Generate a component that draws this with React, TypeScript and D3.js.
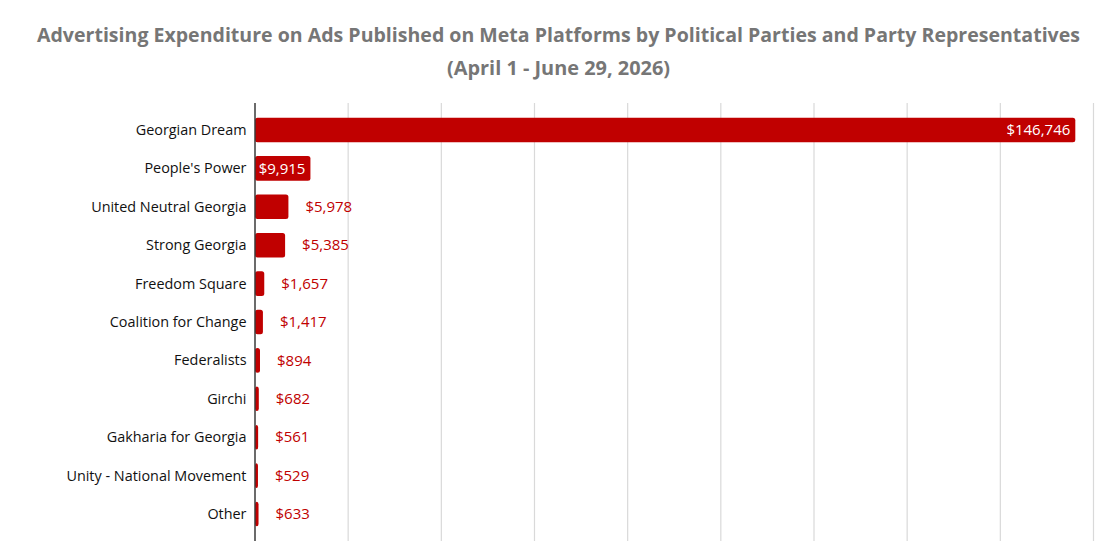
import React from 'react';
import * as d3 from 'd3';

const parties = [
  'Georgian Dream',
  "People's Power",
  'United Neutral Georgia',
  'Strong Georgia',
  'Freedom Square',
  'Coalition for Change',
  'Federalists',
  'Girchi',
  'Gakharia for Georgia',
  'Unity - National Movement',
  'Other',
];
const spend = [146746, 9915, 5978, 5385, 1657, 1417, 894, 682, 561, 529, 633];
const titleLines = [
  'Advertising Expenditure on Ads Published on Meta Platforms by Political Parties and Party Representatives',
  '(April 1 - June 29, 2026)',
];

const width = 1105;
const height = 556;
const RED = '#C00000';
const font = "'Open Sans', 'Noto Sans', sans-serif";

const App: React.FC = () => {
  const x = d3.scaleLinear().domain([0, 150000]).range([255, 1093.5]);
  const y = d3
    .scaleBand<string>()
    .domain(parties)
    .range([110.8, 533.2])
    .paddingInner(0.36)
    .paddingOuter(0.18);

  // 9 gridline intervals across the axis
  const ticks = d3.range(0, 10).map((i) => (i * 150000) / 9);
  const fmt = (v: number) => '$' + d3.format(',')(v);

  return (
    <svg
      width={width}
      height={height}
      style={{ position: 'absolute', left: 0, top: 0, background: '#fff' }}
    >
      <g fontFamily={font} fontWeight={700} fill="#767676" textAnchor="middle">
        <text x={558.5} y={41.5} fontSize={19.5} textLength={1043} lengthAdjust="spacingAndGlyphs">
          {titleLines[0]}
        </text>
        <text x={558.5} y={74.5} fontSize={19.5} textLength={223} lengthAdjust="spacingAndGlyphs">
          {titleLines[1]}
        </text>
      </g>

      {/* gridlines */}
      {ticks.slice(1).map((t) => (
        <line
          key={t}
          x1={x(t)}
          x2={x(t)}
          y1={103}
          y2={541}
          stroke="#d9d9d9"
          strokeWidth={1.2}
        />
      ))}

      {/* bars */}
      {parties.map((p, i) => (
        <rect
          key={p}
          x={x(0)}
          y={y(p)}
          width={x(spend[i]) - x(0)}
          height={y.bandwidth()}
          rx={2.5}
          fill={RED}
        />
      ))}

      {/* axis line */}
      <line x1={x(0)} x2={x(0)} y1={103} y2={541} stroke="#3a3a3a" strokeWidth={1.5} />

      {/* category labels */}
      <g fontFamily={font} fontSize={14.4} fill="#111" textAnchor="end">
        {parties.map((p) => (
          <text key={p} x={246.5} y={(y(p) ?? 0) + y.bandwidth() / 2} dy="0.35em">
            {p}
          </text>
        ))}
      </g>

      {/* value labels */}
      <g fontFamily={font} fontSize={15}>
        {parties.map((p, i) => {
          const end = x(spend[i]);
          const inside = end - x(0) > 50;
          return (
            <text
              key={p}
              x={inside ? end - 5 : end + 17}
              y={(y(p) ?? 0) + y.bandwidth() / 2}
              dy="0.35em"
              textAnchor={inside ? 'end' : 'start'}
              fill={inside ? '#ffffff' : RED}
            >
              {fmt(spend[i])}
            </text>
          );
        })}
      </g>
    </svg>
  );
};

export default App;
